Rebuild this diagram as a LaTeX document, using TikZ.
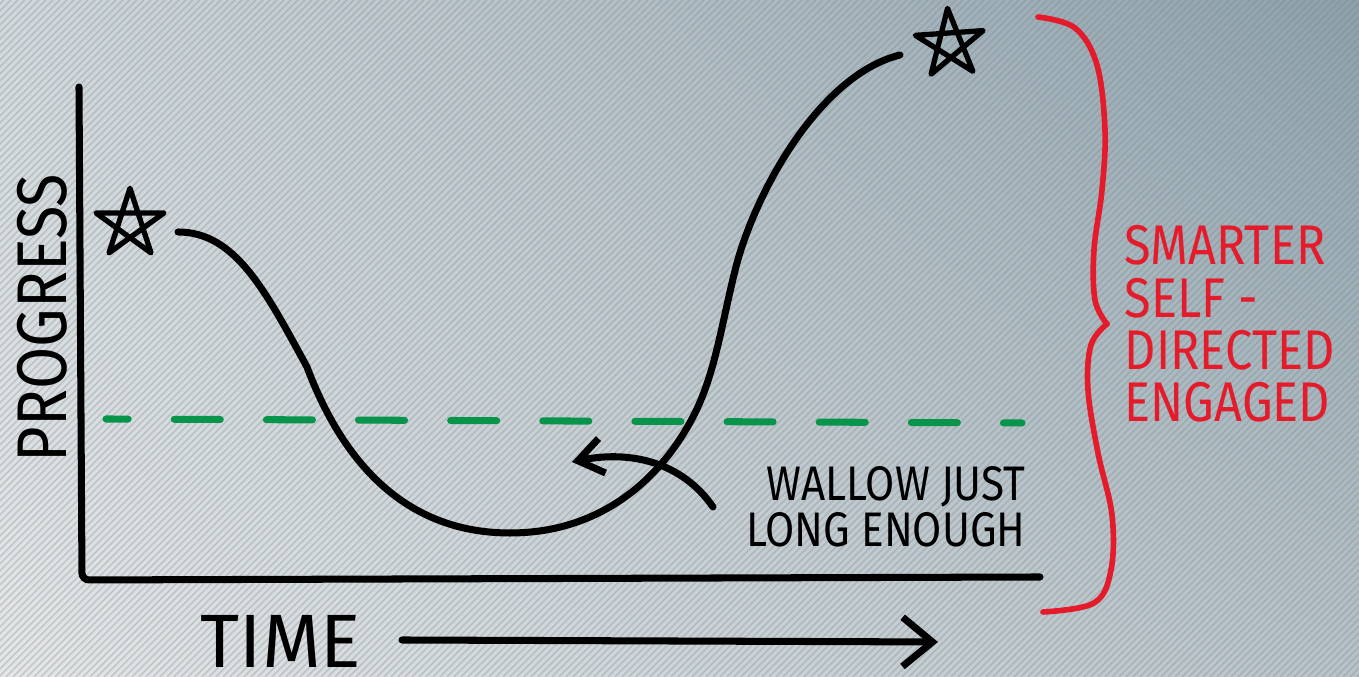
\documentclass[tikz,border=0pt]{standalone}
\usepackage{fontspec}
\newfontfamily\handfont[FakeStretch=0.87]{Fira Sans}
\newfontfamily\widefont{Fira Sans}
\definecolor{SketchRed}{HTML}{E31B2B}
\definecolor{SketchGreen}{HTML}{08944A}
\definecolor{BgLight}{HTML}{E4E6E7}
\definecolor{BgTopLeft}{HTML}{D2D8DB}
\definecolor{BgDark}{HTML}{8EA1AB}
\definecolor{BgLowRight}{HTML}{B8C3C8}
\definecolor{StripeGrey}{HTML}{6F7F88}
\usetikzlibrary{arrows.meta, positioning, shadings}

\begin{document}
\begin{tikzpicture}[x=0.01cm, y=-0.01cm, >=Stealth,
    ink/.style={line width=2pt, line cap=round, line join=round},
    starmark/.style={circle, minimum size=0.7cm, inner sep=0pt},
    hand/.style 2 args={font=\handfont\fontsize{#1}{#2}\selectfont}]
  \useasboundingbox (0,0) rectangle (1359,677);
  % Background card with fine hatching
  \shade[upper left=BgTopLeft, upper right=BgDark, lower left=BgLight, lower right=BgLowRight]
    (0,0) rectangle (1359,677);
  \begin{scope}
    \clip (0,0) rectangle (1359,677);
    \foreach \i in {-680,-673,...,1359}
      \draw[StripeGrey, opacity=0.3, line width=0.4pt] (\i,677) -- ++(677,-677);
  \end{scope}
  % Axes
  \coordinate (yTop) at (79,87);
  \coordinate (origin) at (82,580);
  \coordinate (xEnd) at (1040,577);
  \draw[ink, rounded corners=2pt] (yTop) -- (origin) -- (xEnd);
  \node[hand={20}{20}, rotate=90] (progress) at (42,318) {PROGRESS};
  \node[font=\widefont\fontsize{21.5}{22}\selectfont, inner sep=0pt] (time) at (281,641) {TIME};
  \coordinate (timeTail) at (402,640);
  \coordinate (timeTip) at (938,642);
  \draw[ink, -{Straight Barb[length=8.5pt, width=14pt]}] (timeTail) -- (timeTip);
  % Threshold
  \coordinate (bandL) at (106,419);
  \coordinate (bandR) at (1022,423);
  \draw[SketchGreen, line width=2pt, line cap=round,
    dash pattern=on 13.1pt off 13.1pt, dash phase=6.8pt] (bandL) -- (bandR);
  % Stars
  \node[starmark] (starStart) at (130,224) {};
  \node[starmark, rotate=4] (starGoal) at (950,44) {};
  \foreach \s in {starStart, starGoal}
    \draw[ink, line width=1.5pt] (\s.90) -- (\s.234) -- (\s.18) -- (\s.162) -- (\s.306) -- cycle;
  % The dip
  \coordinate (dipStart) at (178,232);
  \coordinate (dipEnd) at (900,55);
  \draw[ink] (dipStart) .. controls (235,232) and (265,290) .. (307,367)
    .. controls (340,455) and (400,533) .. (510,533)
    .. controls (600,533) and (660,480) .. (693,417)
    .. controls (716,373) and (722,320) .. (737,263)
    .. controls (757,190) and (820,75) .. (dipEnd);
  % Wallow note
  \node[hand={13.8}{13.1}, align=right] (wallow) at (886,507) {WALLOW JUST\\LONG ENOUGH};
  \coordinate (wallowTail) at (713,507);
  \coordinate (wallowTip) at (572,462);
  \draw[ink, -{Straight Barb[length=7pt, width=10pt]}] (wallowTail)
    .. controls (682,462) and (630,450) .. (wallowTip);
  % Brace and payoff
  \coordinate (braceTop) at (1038,17);
  \coordinate (braceTip) at (1107,324);
  \coordinate (braceBottom) at (1043,612);
  \draw[SketchRed, line width=1.6pt, line cap=round] plot[smooth, tension=0.6] coordinates
    {(braceTop) (1075,28) (1097,65) (1105,130) (1102,190) (1094,250) (1095,300) (braceTip)};
  \draw[SketchRed, line width=1.6pt, line cap=round] plot[smooth, tension=0.6] coordinates
    {(braceTip) (1091,345) (1088,390) (1098,453) (1112,515) (1111,570) (1094,603) (braceBottom)};
  \node[hand={15.9}{14.9}, text=SketchRed, align=left, inner sep=0pt,
    right=0.17cm of braceTip] (gains) {SMARTER\\SELF -\\DIRECTED\\ENGAGED};
\end{tikzpicture}
\end{document}
